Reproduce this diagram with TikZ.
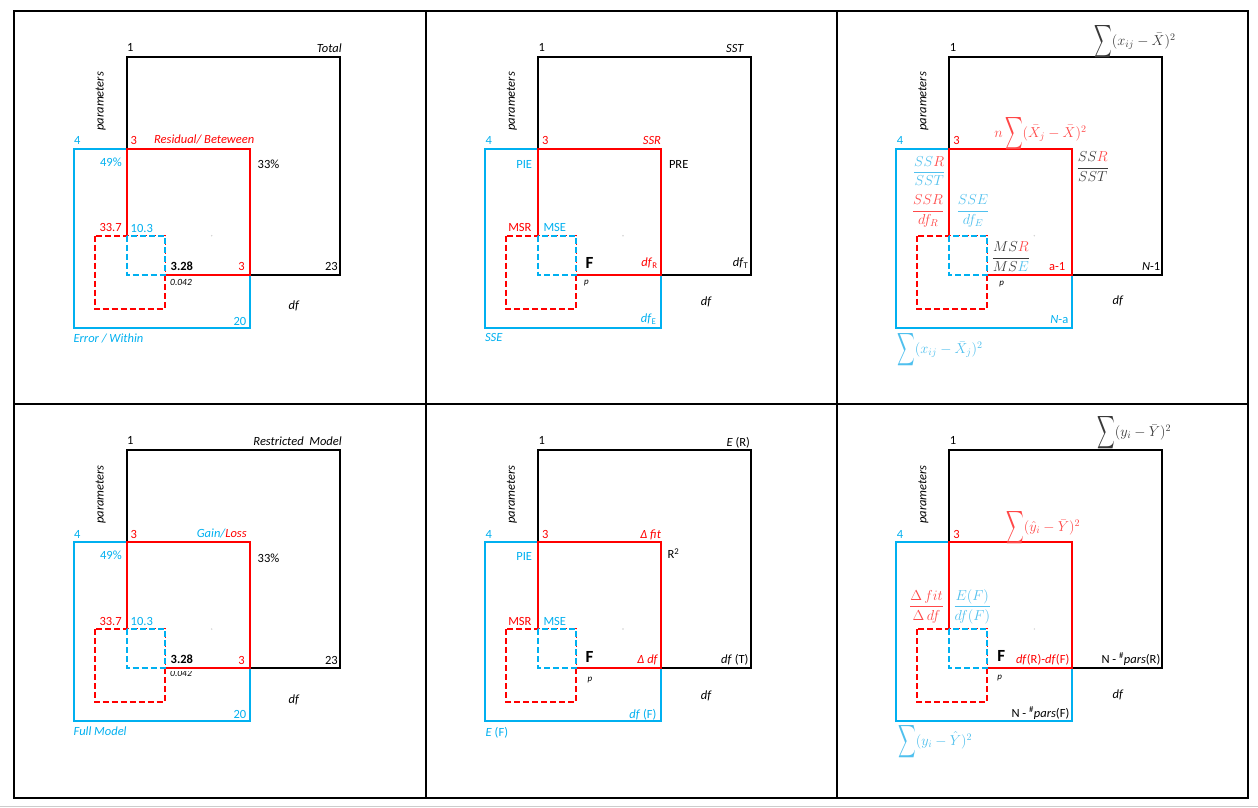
\documentclass[tikz,border=0pt]{standalone}
\usepackage{amsmath}
\usepackage{graphicx}
\usepackage{fontspec}
\setmainfont{Carlito}
\definecolor{cblu}{HTML}{00B0F0}
\definecolor{cred}{HTML}{FF0000}
\definecolor{lblu}{HTML}{4FC0EE}
\definecolor{lred}{HTML}{FF4848}
\definecolor{dgray}{HTML}{3A3A3A}
\newcommand\lblfont{\fontsize{12.5}{15}\selectfont}
\newcommand\mathfnt{\fontsize{14}{16}\selectfont}
\newcommand\sumfnt{\fontsize{14}{16}\selectfont}
\newcommand\bsum{\raisebox{-2pt}{\scalebox{0.85}[1.6]{$\displaystyle\sum$}}}
\newcommand\drawpanel[3]{%
\begin{scope}[shift={(#2,#3)}]
 \draw[blk] (0,0) rectangle (213,218);
 \draw[blu] (-53,92) rectangle (123,271);
 \draw[rd] (0,92) rectangle (123,218);
 \draw[rdd] (-32,179) rectangle (38,252);
 \draw[bld] (0,179) rectangle (38,218);
 \fill[gray!35] (85,179) circle (0.8);
 \node[lbl,anchor=base west] (#1one) at (0.5,-5.7) {1};
 \node[lbl,anchor=base west,text=cblu] (#1four) at (-52.5,88) {4};
 \node[lbl,anchor=base west,text=cred] (#1three) at (4,88) {3};
 \node[lbl,rotate=90,font=\lblfont\itshape] (#1par) at (-26,44.5) {parameters};
\end{scope}}
\begin{document}
\begin{tikzpicture}[x=1pt,y=-1pt,
  lbl/.style={inner sep=0pt,outer sep=0pt,font=\lblfont},
  it/.style={font=\lblfont\itshape},
  blk/.style={draw=black,line width=2pt},
  blu/.style={draw=cblu,line width=2pt},
  rd/.style={draw=cred,line width=2pt},
  rdd/.style={draw=cred,line width=2pt,dash pattern=on 6pt off 3pt,fill=white},
  bld/.style={draw=cblu,line width=2pt,dash pattern=on 6pt off 3pt,fill=white},
  frm/.style={draw=black,line width=2pt},
  bigF/.style={font=\fontsize{17}{20}\selectfont\bfseries},
  smallp/.style={font=\fontsize{9}{11}\selectfont\itshape},
  mth/.style={inner sep=0pt,outer sep=0pt,font=\mathfnt},
  sm/.style={inner sep=0pt,outer sep=0pt,font=\sumfnt}]
\useasboundingbox (0,0) rectangle (1258,807);
\fill[white] (0,0) rectangle (1258,807);
% frame
\draw[frm] (14,11) rectangle (1248,798);
\draw[frm] (426,11) -- (426,798);
\draw[frm] (837,11) -- (837,798);
\draw[frm] (14,404) -- (1248,404);
\draw[gray!40,line width=1pt] (0,806) -- (1258,806);
% panels
\drawpanel{a}{126.7}{56.7}
\drawpanel{b}{538}{56.7}
\drawpanel{c}{949.3}{56.7}
\drawpanel{d}{126.7}{450}
\drawpanel{e}{538}{450}
\drawpanel{f}{949.3}{450}
% ---------- panel a
\begin{scope}[shift={(126.7,56.7)}]
 \node[lbl,it,anchor=base east] (atot) at (215,-4.7) {Total};
 \node[lbl,it,anchor=base east,text=cred] (ares) at (127.5,86.5) {Residual/ Beteween};
 \node[lbl,anchor=base east,text=cblu] (a49) at (-5,110) {49\%};
 \node[lbl,anchor=base west] (a33) at (131,111.5) {33\%};
 \node[lbl,anchor=base east,text=cred] (a337) at (-5,174.5) {33.7};
 \node[lbl,anchor=base west,text=cblu] (a103) at (4,175.5) {10.3};
 \node[lbl,anchor=base west,font=\lblfont\bfseries] (a328) at (44,213.5) {3.28};
 \node[lbl,anchor=base east,text=cred] (a3b) at (118,214) {3};
 \node[lbl,anchor=base east] (a23) at (211,214) {23};
 \node[lbl,anchor=base west,font=\fontsize{9.5}{11}\selectfont\itshape] (ap) at (43.5,228.5) {0.042};
 \node[lbl,it,anchor=base] (adf) at (167,253) {df};
 \node[lbl,anchor=base east,text=cblu] (a20) at (119.5,268.5) {20};
 \node[lbl,it,anchor=base west,text=cblu] (aerr) at (-53,285.5) {Error / Within};
\end{scope}
% ---------- panel b
\begin{scope}[shift={(538,56.7)}]
 \node[lbl,it,anchor=base east] (bsst) at (205.5,-4.5) {SST};
 \node[lbl,it,anchor=base east,text=cred] (bssr) at (123,87.5) {SSR};
 \node[lbl,anchor=base east,text=cblu] (bpie) at (-6,111.5) {PIE};
 \node[lbl,anchor=base west] (bpre) at (131,111.5) {PRE};
 \node[lbl,anchor=base east,text=cred] (bmsr) at (-6.5,174.5) {MSR};
 \node[lbl,anchor=base west,text=cblu] (bmse) at (5.5,174.5) {MSE};
 \node[lbl,bigF,anchor=base west] (bF) at (47.5,212) {F};
 \node[lbl,anchor=base east,text=cred] (bdfr) at (119.5,209.5) {\textit{df}\textsubscript{R}};
 \node[lbl,anchor=base east] (bdft) at (210.5,209.5) {\textit{df}\textsubscript{T}};
 \node[lbl,smallp,anchor=base west] (bp) at (46,228) {p};
 \node[lbl,it,anchor=base] (bdf) at (168,249) {df};
 \node[lbl,anchor=base east,text=cblu] (bdfe) at (118.5,266) {\textit{df}\textsubscript{E}};
 \node[lbl,it,anchor=base west,text=cblu] (bsse) at (-53,285) {SSE};
\end{scope}
% ---------- panel c
\begin{scope}[shift={(949.3,56.7)}]
 \node[sm,anchor=west,text=dgray] (csumt) at (145,-15) {\bsum$(x_{ij}-\bar{X})^2$};
 \node[sm,anchor=west,text=lred] (csumr) at (45,77) {$n$\,\bsum$(\bar{X}_j-\bar{X})^2$};
 \node[sm,anchor=west,text=lblu] (csumb) at (-52,293.3) {\bsum$(x_{ij}-\bar{X}_j)^2$};
 \node[mth,anchor=east,text=lblu] (cf1) at (-4,114.3) {$\dfrac{SS{\color{lred}R}}{SST}$};
 \node[mth,anchor=west,text=dgray] (cf2) at (127.4,110) {$\dfrac{SS{\color{lred}R}}{SST}$};
 \node[mth,anchor=east,text=lred] (cf3) at (-5,154.3) {$\dfrac{SSR}{df_R}$};
 \node[mth,anchor=west,text=lblu] (cf4) at (7.4,154.3) {$\dfrac{SSE}{df_E}$};
 \node[mth,anchor=west,text=dgray] (cf5) at (42.4,200) {$\dfrac{MS{\color{lred}R}}{MS{\color{lblu}E}}$};
 \node[lbl,anchor=base east,text=cred] (ca1) at (116,214) {a-1};
 \node[lbl,anchor=base east] (cn1) at (211,214) {\textit{N}-1};
 \node[lbl,smallp,anchor=base west] (cp) at (50,229) {p};
 \node[lbl,it,anchor=base] (cdf) at (168.4,248) {df};
 \node[lbl,anchor=base east,text=cblu] (cna) at (119,266.6) {\textit{N}-a};
\end{scope}
% ---------- panel d
\begin{scope}[shift={(126.7,450)}]
 \node[lbl,it,anchor=base east] (drm) at (215,-5) {Restricted\ \ Model};
 \node[lbl,it,anchor=base east,text=cred] (dgl) at (120,87.3) {{\color{cblu}Gain/}Loss};
 \node[lbl,anchor=base east,text=cblu] (d49) at (-5,109.5) {49\%};
 \node[lbl,anchor=base west] (d33) at (131,112) {33\%};
 \node[lbl,anchor=base east,text=cred] (d337) at (-5,175) {33.7};
 \node[lbl,anchor=base west,text=cblu] (d103) at (4,175.5) {10.3};
 \node[lbl,anchor=base west,font=\lblfont\bfseries] (d328) at (44,213.5) {3.28};
 \node[lbl,anchor=base east,text=cred] (d3b) at (118,214.5) {3};
 \node[lbl,anchor=base east] (d23) at (211,214.5) {23};
 \begin{scope}
  \clip (30,221.2) rectangle (80,235);
  \node[lbl,anchor=base west,font=\fontsize{9.5}{11}\selectfont\itshape] (dp) at (43.5,226.3) {0.042};
 \end{scope}
 \node[lbl,it,anchor=base] (ddf) at (167,253) {df};
 \node[lbl,anchor=base east,text=cblu] (d20) at (119.5,268.5) {20};
 \node[lbl,it,anchor=base west,text=cblu] (dfull) at (-53,285.7) {Full Model};
\end{scope}
% ---------- panel e
\begin{scope}[shift={(538,450)}]
 \node[lbl,anchor=base east] (eer) at (212,-3.5) {\textit{E} (R)};
 \node[lbl,it,anchor=base east,text=cred] (efit) at (123,88.5) {Δ fit};
 \node[lbl,anchor=base west] (er2) at (129.5,108.5) {R\textsuperscript{2}};
 \node[lbl,anchor=base east,text=cblu] (epie) at (-6,110) {PIE};
 \node[lbl,anchor=base east,text=cred] (emsr) at (-6.5,175) {MSR};
 \node[lbl,anchor=base west,text=cblu] (emse) at (5.5,175) {MSE};
 \node[lbl,bigF,anchor=base west] (eF) at (47.5,212.3) {F};
 \node[lbl,it,anchor=base east,text=cred] (eddf) at (119.5,213) {Δ df};
 \node[lbl,anchor=base east] (edft) at (210.5,213) {\textit{df} (T)};
 \node[lbl,smallp,anchor=base west] (ep) at (49.5,231.5) {p};
 \node[lbl,it,anchor=base] (edf) at (168,249) {df};
 \node[lbl,anchor=base east,text=cblu] (edff) at (118.5,268.3) {\textit{df} (F)};
 \node[lbl,anchor=base west,text=cblu] (eef) at (-52.3,286.7) {\textit{E} (F)};
\end{scope}
% ---------- panel f
\begin{scope}[shift={(949.3,450)}]
 \node[sm,anchor=west,text=dgray] (fsumt) at (148,-17) {\bsum$(y_i-\bar{Y})^2$};
 \node[sm,anchor=west,text=lred] (fsumr) at (57,78) {\bsum$(\hat{y}_i-\bar{Y})^2$};
 \node[sm,anchor=west,text=lblu] (fsumb) at (-51,291.7) {\bsum$(y_i-\hat{Y})^2$};
 \node[mth,anchor=east,text=lred] (ff1) at (-5.3,156.7) {$\dfrac{\Delta\,fit}{\Delta\,df}$};
 \node[mth,anchor=west,text=lblu] (ff2) at (4,156.7) {$\dfrac{E(F)}{df(F)}$};
 \node[lbl,bigF,anchor=base west] (fF) at (48,211.7) {F};
 \node[lbl,anchor=base east,text=cred] (fdd) at (120,213) {\textit{df}(R)-\textit{df}(F)};
 \node[lbl,anchor=base east] (fnr) at (211,213) {N - \textsuperscript{\#}\textit{pars}(R)};
 \node[lbl,smallp,anchor=base west] (fp) at (48,229.5) {p};
 \node[lbl,it,anchor=base] (fdf) at (168.4,248) {df};
 \node[lbl,anchor=base east] (fnf) at (120,267.3) {N - \textsuperscript{\#}\textit{pars}(F)};
\end{scope}
\end{tikzpicture}
\end{document}
